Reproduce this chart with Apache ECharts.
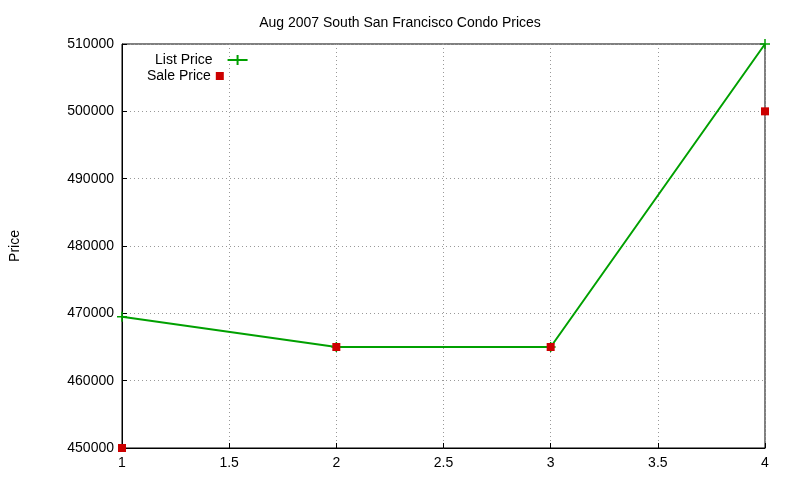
<!DOCTYPE html>
<html><head><meta charset="utf-8">
<script src="https://cdn.jsdelivr.net/npm/echarts@6/dist/echarts.min.js"></script>
<style>body{margin:0;background:#fff}#c{width:800px;height:480px}</style>
</head><body><div id="c"></div>
<script>
const xs = [1, 2, 3, 4];
const listPrice = [469500, 465000, 465000, 510000];
const salePrice = [450000, 465000, 465000, 500000];
const font = 'Liberation Sans';
const chart = echarts.init(document.getElementById('c'));
const legText = {fontSize: 14, color: '#000', fontFamily: font};
chart.setOption({
  animation: false,
  textStyle: {fontFamily: font},
  title: {text: 'Aug 2007 South San Francisco Condo Prices', left: 'center', top: 11,
    textStyle: {fontSize: 14, fontWeight: 'normal', color: '#000', fontFamily: font}},
  grid: {left: 119, right: 35, top: 44, bottom: 32, show: true, borderColor: '#000', borderWidth: 1},
  legend: [
    {left: 150, top: 48, align: 'right', textStyle: legText, itemWidth: 40, itemHeight: 10, itemGap: 2,
      data: [{name: 'List Price', icon: 'path://M0,5L20,5M10,0L10,10'}]},
    {left: 142, top: 64, align: 'right', textStyle: legText, itemWidth: 8, itemHeight: 8,
      data: [{name: 'Sale Price', icon: 'rect'}]}
  ],
  xAxis: {type: 'value', min: 1, max: 4, interval: 0.5,
    axisLine: {show: true, lineStyle: {color: '#000'}},
    axisTick: {inside: true, lineStyle: {color: '#000'}},
    axisLabel: {color: '#000', fontSize: 14, margin: 8},
    splitLine: {show: true, lineStyle: {color: '#999', type: [1, 3]}}},
  yAxis: {type: 'value', min: 450000, max: 510000, interval: 10000,
    name: 'Price', nameLocation: 'middle', nameGap: 100, nameRotate: 90,
    nameTextStyle: {fontSize: 14, color: '#000'},
    axisLine: {show: true, lineStyle: {color: '#000'}},
    axisTick: {inside: true, lineStyle: {color: '#000'}},
    axisLabel: {color: '#000', fontSize: 14, margin: 8, formatter: v => String(v)},
    splitLine: {show: true, lineStyle: {color: '#999', type: [1, 3]}}},
  series: [
    {name: 'List Price', type: 'line', data: xs.map((x, i) => [x, listPrice[i]]),
      color: '#00a000', lineStyle: {width: 2, color: '#00a000'},
      symbol: 'path://M0,5L10,5M5,0L5,10', symbolSize: 10,
      itemStyle: {color: '#00a000', borderColor: '#00a000', borderWidth: 1.5}},
    {name: 'Sale Price', type: 'scatter', data: xs.map((x, i) => [x, salePrice[i]]),
      color: '#cc0000', symbol: 'rect', symbolSize: 8,
      itemStyle: {color: '#cc0000', opacity: 1}, z: 5}
  ]
});
</script></body></html>
